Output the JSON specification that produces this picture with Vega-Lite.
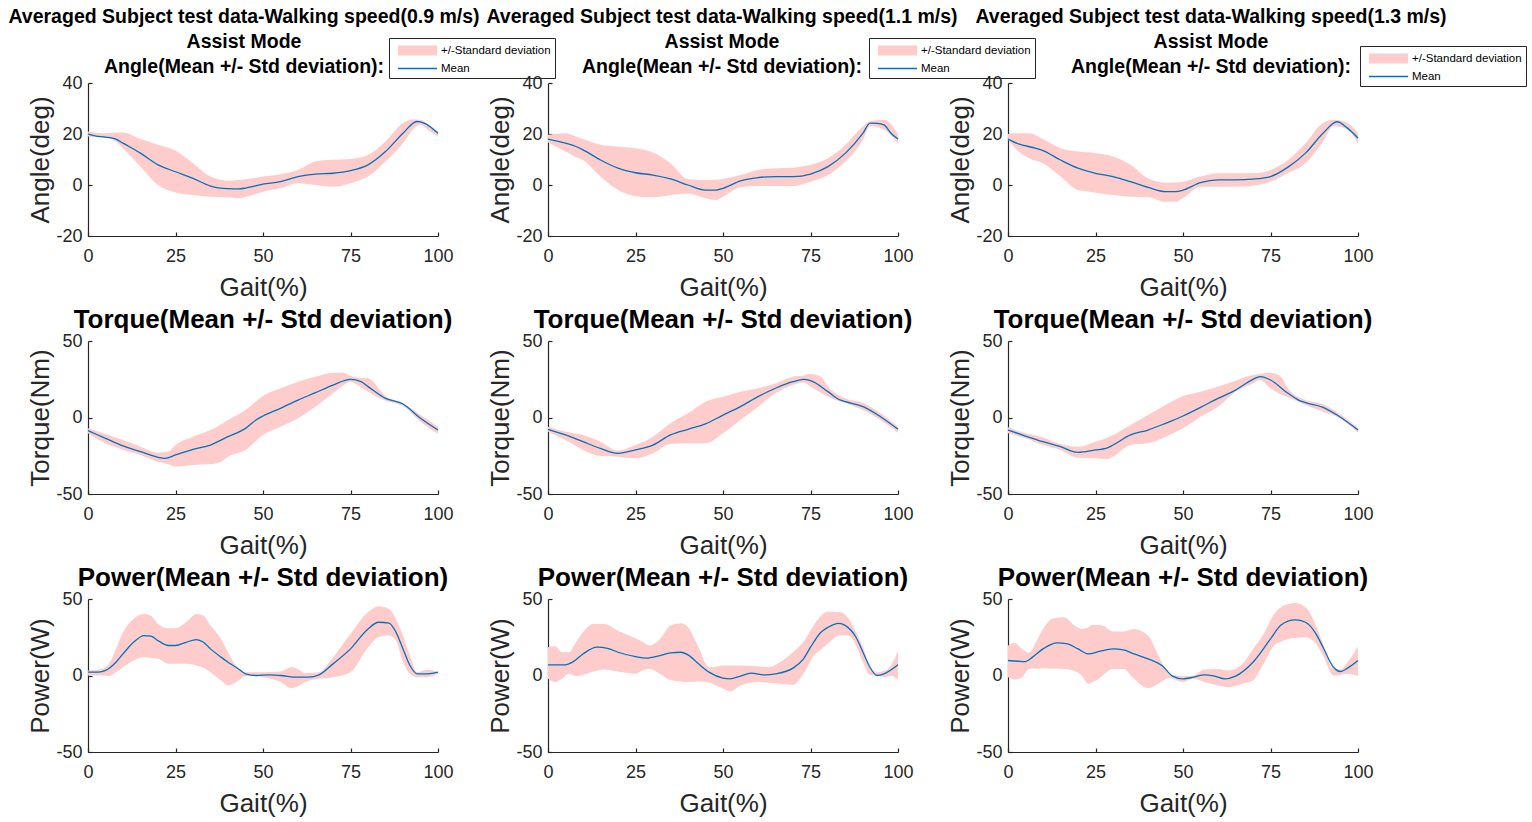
{
"$schema": "https://vega.github.io/schema/vega-lite/v6.json",
"background": "white",
"padding": {"left": 8, "top": 7, "right": 5, "bottom": 5},
"config": {
  "font": "Liberation Sans",
  "view": {"stroke": null},
  "axis": {"grid": false, "domainColor": "#262626", "tickColor": "#262626", "labelColor": "#262626", "titleColor": "#262626", "labelFont": "Liberation Sans", "titleFont": "Liberation Sans", "labelFontSize": 18, "titleFontSize": 26, "titleFontWeight": "normal", "tickSize": -4, "domainWidth": 1.2, "tickWidth": 1.2, "labelOverlap": false, "labelFlush": false, "labelExpr": "'' + datum.value"},
  "axisX": {"labelPadding": 15, "titlePadding": 9},
  "axisY": {"labelPadding": 10, "titlePadding": 2},
  "title": {"font": "Liberation Sans", "fontWeight": "bold", "color": "#000000", "frame": "group", "anchor": "middle"},
  "legend": {"title": null, "orient": "none", "symbolSize": 289, "symbolStrokeWidth": 0, "symbolOpacity": 1, "labelFont": "Liberation Sans", "labelFontSize": 11.5, "labelColor": "#000000", "padding": 4, "strokeColor": "#262626", "fillColor": "white", "rowPadding": 4, "symbolOffset": 16, "labelOffset": 15}
},
"datasets": {
"band": [
{"p":"a1","x":0,"lo":19,"hi":21},{"p":"a1","x":5,"lo":18.4,"hi":20.3},{"p":"a1","x":8,"lo":17,"hi":20.6},{"p":"a1","x":10,"lo":14.4,"hi":20.6},{"p":"a1","x":15,"lo":7.2,"hi":18},{"p":"a1","x":20,"lo":0,"hi":15.8},{"p":"a1","x":25,"lo":-2.9,"hi":13.5},{"p":"a1","x":30,"lo":-3.9,"hi":8.5},{"p":"a1","x":35,"lo":-4.6,"hi":3.3},{"p":"a1","x":40,"lo":-4.8,"hi":1.7},{"p":"a1","x":43,"lo":-5.2,"hi":2},{"p":"a1","x":45,"lo":-4.6,"hi":2.3},{"p":"a1","x":47,"lo":-3.9,"hi":2.6},{"p":"a1","x":50,"lo":-2.6,"hi":3.3},{"p":"a1","x":55,"lo":-1.3,"hi":4.2},{"p":"a1","x":60,"lo":0.7,"hi":5.9},{"p":"a1","x":65,"lo":0,"hi":9.2},{"p":"a1","x":70,"lo":-0.7,"hi":9.9},{"p":"a1","x":75,"lo":0.7,"hi":10.2},{"p":"a1","x":80,"lo":3.3,"hi":11.8},{"p":"a1","x":85,"lo":9.2,"hi":17.1},{"p":"a1","x":90,"lo":16.4,"hi":24.3},{"p":"a1","x":93,"lo":22,"hi":25.8},{"p":"a1","x":95,"lo":23.6,"hi":25.6},{"p":"a1","x":97,"lo":21.7,"hi":24},{"p":"a1","x":100,"lo":19,"hi":21},
{"p":"a2","x":0,"lo":16.7,"hi":19.7},{"p":"a2","x":5,"lo":13.1,"hi":20.3},{"p":"a2","x":8,"lo":11,"hi":19},{"p":"a2","x":10,"lo":9.8,"hi":18},{"p":"a2","x":15,"lo":3.3,"hi":15.8},{"p":"a2","x":20,"lo":-2,"hi":15.1},{"p":"a2","x":25,"lo":-4.4,"hi":14.4},{"p":"a2","x":30,"lo":-4.8,"hi":12.7},{"p":"a2","x":35,"lo":-3.9,"hi":8.5},{"p":"a2","x":40,"lo":-3.3,"hi":2.3},{"p":"a2","x":45,"lo":-5.2,"hi":2},{"p":"a2","x":48,"lo":-5.9,"hi":2.1},{"p":"a2","x":50,"lo":-4.6,"hi":2.4},{"p":"a2","x":55,"lo":-0.9,"hi":3.9},{"p":"a2","x":60,"lo":-0.4,"hi":5.9},{"p":"a2","x":65,"lo":-0.4,"hi":6.6},{"p":"a2","x":70,"lo":-0.4,"hi":6.8},{"p":"a2","x":75,"lo":1.3,"hi":7.9},{"p":"a2","x":80,"lo":3.9,"hi":10.5},{"p":"a2","x":85,"lo":9.2,"hi":15.8},{"p":"a2","x":90,"lo":17.7,"hi":23},{"p":"a2","x":92,"lo":23,"hi":25},{"p":"a2","x":96,"lo":21.7,"hi":25.6},{"p":"a2","x":100,"lo":16.2,"hi":20},
{"p":"a3","x":0,"lo":17.7,"hi":20},{"p":"a3","x":3,"lo":13.1,"hi":20.3},{"p":"a3","x":6,"lo":10.5,"hi":20.3},{"p":"a3","x":10,"lo":8.5,"hi":18},{"p":"a3","x":15,"lo":3.3,"hi":14.4},{"p":"a3","x":20,"lo":-2,"hi":13.1},{"p":"a3","x":25,"lo":-3,"hi":12.5},{"p":"a3","x":30,"lo":-3.9,"hi":11.2},{"p":"a3","x":35,"lo":-4.6,"hi":7.9},{"p":"a3","x":40,"lo":-4.8,"hi":2.6},{"p":"a3","x":45,"lo":-6.6,"hi":0.9},{"p":"a3","x":48,"lo":-6.6,"hi":1},{"p":"a3","x":50,"lo":-5.2,"hi":1.3},{"p":"a3","x":55,"lo":-0.7,"hi":3.3},{"p":"a3","x":60,"lo":-0.7,"hi":4.6},{"p":"a3","x":65,"lo":-0.7,"hi":4.6},{"p":"a3","x":70,"lo":-0.3,"hi":4.6},{"p":"a3","x":75,"lo":1.3,"hi":5.9},{"p":"a3","x":80,"lo":4.6,"hi":9.8},{"p":"a3","x":85,"lo":8.5,"hi":16.4},{"p":"a3","x":90,"lo":17,"hi":24.3},{"p":"a3","x":93,"lo":23,"hi":25.6},{"p":"a3","x":97,"lo":21.7,"hi":24.3},{"p":"a3","x":100,"lo":16.2,"hi":20.3},
{"p":"t1","x":0,"lo":-10.3,"hi":-7.1},{"p":"t1","x":5,"lo":-16.9,"hi":-10.8},{"p":"t1","x":10,"lo":-21.2,"hi":-14.7},{"p":"t1","x":15,"lo":-24.5,"hi":-19.1},{"p":"t1","x":20,"lo":-28.9,"hi":-23},{"p":"t1","x":23,"lo":-30.5,"hi":-22.3},{"p":"t1","x":25,"lo":-32.1,"hi":-18},{"p":"t1","x":30,"lo":-31,"hi":-12.5},{"p":"t1","x":35,"lo":-30.6,"hi":-8.2},{"p":"t1","x":38,"lo":-28.9,"hi":-4.5},{"p":"t1","x":40,"lo":-25.6,"hi":-1.6},{"p":"t1","x":45,"lo":-21.2,"hi":4.9},{"p":"t1","x":50,"lo":-11.4,"hi":14.1},{"p":"t1","x":55,"lo":-6,"hi":19.1},{"p":"t1","x":60,"lo":-0.5,"hi":23.4},{"p":"t1","x":65,"lo":7.1,"hi":26.7},{"p":"t1","x":70,"lo":15.8,"hi":29.3},{"p":"t1","x":73,"lo":21,"hi":29.3},{"p":"t1","x":75,"lo":23.4,"hi":27.1},{"p":"t1","x":77,"lo":21.2,"hi":26},{"p":"t1","x":80,"lo":16.9,"hi":25.6},{"p":"t1","x":85,"lo":11,"hi":14.1},{"p":"t1","x":90,"lo":7.5,"hi":9.3},{"p":"t1","x":95,"lo":-2.7,"hi":1.6},{"p":"t1","x":100,"lo":-10.8,"hi":-6},
{"p":"t2","x":0,"lo":-9.3,"hi":-6},{"p":"t2","x":5,"lo":-14.7,"hi":-9.3},{"p":"t2","x":10,"lo":-21.2,"hi":-11.4},{"p":"t2","x":15,"lo":-25.2,"hi":-15.8},{"p":"t2","x":20,"lo":-25.6,"hi":-21.7},{"p":"t2","x":25,"lo":-26.7,"hi":-18},{"p":"t2","x":30,"lo":-23.4,"hi":-12.5},{"p":"t2","x":35,"lo":-17.3,"hi":-3.8},{"p":"t2","x":40,"lo":-16.9,"hi":2.7},{"p":"t2","x":45,"lo":-16.9,"hi":10.3},{"p":"t2","x":50,"lo":-10.3,"hi":13.6},{"p":"t2","x":55,"lo":-1.6,"hi":16.9},{"p":"t2","x":60,"lo":7.1,"hi":19.1},{"p":"t2","x":65,"lo":15.8,"hi":22.3},{"p":"t2","x":70,"lo":21.2,"hi":26.7},{"p":"t2","x":73,"lo":22.8,"hi":27.5},{"p":"t2","x":75,"lo":20.2,"hi":28.4},{"p":"t2","x":78,"lo":16,"hi":26.7},{"p":"t2","x":80,"lo":13.6,"hi":20.2},{"p":"t2","x":85,"lo":9.3,"hi":12.5},{"p":"t2","x":90,"lo":4.9,"hi":9.7},{"p":"t2","x":95,"lo":-1.6,"hi":2.7},{"p":"t2","x":100,"lo":-9.9,"hi":-6},
{"p":"t3","x":0,"lo":-10.3,"hi":-6.4},{"p":"t3","x":5,"lo":-13.6,"hi":-10.3},{"p":"t3","x":10,"lo":-18,"hi":-13},{"p":"t3","x":15,"lo":-21.2,"hi":-17.3},{"p":"t3","x":20,"lo":-26.3,"hi":-19.1},{"p":"t3","x":25,"lo":-26.7,"hi":-15.8},{"p":"t3","x":28,"lo":-27.3,"hi":-13.5},{"p":"t3","x":30,"lo":-25.6,"hi":-11.4},{"p":"t3","x":35,"lo":-18,"hi":-4.9},{"p":"t3","x":40,"lo":-16.9,"hi":1.6},{"p":"t3","x":45,"lo":-12.5,"hi":8.2},{"p":"t3","x":50,"lo":-7.1,"hi":14.1},{"p":"t3","x":55,"lo":0.5,"hi":16.9},{"p":"t3","x":60,"lo":7.1,"hi":20.2},{"p":"t3","x":65,"lo":16.9,"hi":24.1},{"p":"t3","x":70,"lo":22.3,"hi":27.8},{"p":"t3","x":72,"lo":24.5,"hi":28.5},{"p":"t3","x":75,"lo":19.1,"hi":29.3},{"p":"t3","x":78,"lo":15,"hi":26.7},{"p":"t3","x":80,"lo":13.2,"hi":19.1},{"p":"t3","x":85,"lo":8.2,"hi":11.4},{"p":"t3","x":90,"lo":3.8,"hi":8.8},{"p":"t3","x":94,"lo":0.5,"hi":3.5},{"p":"t3","x":100,"lo":-9.9,"hi":-6.6},
{"p":"p1","x":0,"lo":0,"hi":3.3},{"p":"p1","x":4,"lo":0,"hi":4.3},{"p":"p1","x":6,"lo":-0.4,"hi":7.6},{"p":"p1","x":8,"lo":2.2,"hi":17.4},{"p":"p1","x":10,"lo":5.4,"hi":28.3},{"p":"p1","x":13,"lo":9.8,"hi":37},{"p":"p1","x":16,"lo":12,"hi":40.2},{"p":"p1","x":18,"lo":11.5,"hi":39.1},{"p":"p1","x":20,"lo":10.9,"hi":33.7},{"p":"p1","x":23,"lo":7.6,"hi":30.9},{"p":"p1","x":25,"lo":7.6,"hi":30.9},{"p":"p1","x":28,"lo":7.6,"hi":34.8},{"p":"p1","x":31,"lo":6.5,"hi":40.2},{"p":"p1","x":33,"lo":5,"hi":39.1},{"p":"p1","x":35,"lo":2.2,"hi":32.6},{"p":"p1","x":38,"lo":-3.3,"hi":23.9},{"p":"p1","x":40,"lo":-6.5,"hi":15.2},{"p":"p1","x":43,"lo":-3.3,"hi":4.3},{"p":"p1","x":45,"lo":-0.4,"hi":2.2},{"p":"p1","x":50,"lo":-1.1,"hi":2.2},{"p":"p1","x":55,"lo":-4.3,"hi":2.6},{"p":"p1","x":58,"lo":-8.3,"hi":5.4},{"p":"p1","x":60,"lo":-7,"hi":4.3},{"p":"p1","x":62,"lo":-4.3,"hi":1.5},{"p":"p1","x":66,"lo":-2.2,"hi":2.2},{"p":"p1","x":70,"lo":-1.1,"hi":12},{"p":"p1","x":75,"lo":2.2,"hi":27.2},{"p":"p1","x":80,"lo":18.5,"hi":41.3},{"p":"p1","x":83,"lo":25,"hi":45.2},{"p":"p1","x":86,"lo":26.1,"hi":43.5},{"p":"p1","x":88,"lo":22.8,"hi":37},{"p":"p1","x":90,"lo":8.7,"hi":26.1},{"p":"p1","x":92,"lo":1.1,"hi":13},{"p":"p1","x":94,"lo":-1.1,"hi":2.2},{"p":"p1","x":97,"lo":-1.1,"hi":3.7},{"p":"p1","x":100,"lo":1.1,"hi":2.2},
{"p":"p2","x":0,"lo":-2.2,"hi":18.5},{"p":"p2","x":2,"lo":-4.3,"hi":19.1},{"p":"p2","x":4,"lo":-2.2,"hi":15.2},{"p":"p2","x":6,"lo":1.1,"hi":15.2},{"p":"p2","x":8,"lo":-0.4,"hi":21.7},{"p":"p2","x":10,"lo":0.4,"hi":28.3},{"p":"p2","x":13,"lo":2.6,"hi":33.7},{"p":"p2","x":16,"lo":3.9,"hi":33.7},{"p":"p2","x":20,"lo":2.6,"hi":29.3},{"p":"p2","x":25,"lo":1.1,"hi":24.3},{"p":"p2","x":27,"lo":3.3,"hi":22},{"p":"p2","x":29,"lo":4.3,"hi":19.6},{"p":"p2","x":32,"lo":1,"hi":23.9},{"p":"p2","x":35,"lo":-3,"hi":32.6},{"p":"p2","x":38,"lo":-3.9,"hi":34.1},{"p":"p2","x":40,"lo":-4.3,"hi":31.5},{"p":"p2","x":43,"lo":-4,"hi":18.5},{"p":"p2","x":46,"lo":-4.5,"hi":5.4},{"p":"p2","x":48,"lo":-6.5,"hi":5.8},{"p":"p2","x":50,"lo":-8.5,"hi":6.5},{"p":"p2","x":52,"lo":-10.4,"hi":6.5},{"p":"p2","x":55,"lo":-6.5,"hi":6.5},{"p":"p2","x":60,"lo":-4.3,"hi":6.1},{"p":"p2","x":63,"lo":-4.8,"hi":5.4},{"p":"p2","x":67,"lo":-5.6,"hi":9.8},{"p":"p2","x":70,"lo":-6.1,"hi":15.2},{"p":"p2","x":73,"lo":1.1,"hi":22},{"p":"p2","x":76,"lo":13,"hi":33},{"p":"p2","x":78,"lo":17,"hi":39.1},{"p":"p2","x":80,"lo":20.7,"hi":41.7},{"p":"p2","x":83,"lo":26.1,"hi":41.7},{"p":"p2","x":86,"lo":26.1,"hi":37},{"p":"p2","x":88,"lo":19.6,"hi":28.3},{"p":"p2","x":90,"lo":8.7,"hi":18.5},{"p":"p2","x":92,"lo":0.4,"hi":5.4},{"p":"p2","x":94,"lo":0,"hi":2.2},{"p":"p2","x":96,"lo":-1.1,"hi":3},{"p":"p2","x":98,"lo":-0.4,"hi":6.5},{"p":"p2","x":100,"lo":-2.6,"hi":16.3},
{"p":"p3","x":0,"lo":-1.1,"hi":19.6},{"p":"p3","x":2,"lo":-2.6,"hi":21.3},{"p":"p3","x":4,"lo":-1.1,"hi":17.4},{"p":"p3","x":6,"lo":4.3,"hi":14.8},{"p":"p3","x":8,"lo":4.5,"hi":21.7},{"p":"p3","x":10,"lo":4.8,"hi":30.4},{"p":"p3","x":13,"lo":4.5,"hi":37.4},{"p":"p3","x":16,"lo":4.3,"hi":38},{"p":"p3","x":19,"lo":3,"hi":32.6},{"p":"p3","x":21,"lo":0,"hi":30.4},{"p":"p3","x":23,"lo":-5.4,"hi":31.5},{"p":"p3","x":24,"lo":-4.5,"hi":33},{"p":"p3","x":26,"lo":-2.2,"hi":33},{"p":"p3","x":27,"lo":0,"hi":32.6},{"p":"p3","x":30,"lo":4.3,"hi":28.7},{"p":"p3","x":33,"lo":4.3,"hi":28.7},{"p":"p3","x":36,"lo":-2.2,"hi":30.4},{"p":"p3","x":40,"lo":-8.3,"hi":26.1},{"p":"p3","x":43,"lo":-5.4,"hi":13},{"p":"p3","x":46,"lo":-1.7,"hi":1.1},{"p":"p3","x":50,"lo":-4.3,"hi":-0.5},{"p":"p3","x":53,"lo":-2.2,"hi":0},{"p":"p3","x":56,"lo":-4.3,"hi":3.9},{"p":"p3","x":60,"lo":-6.5,"hi":4.3},{"p":"p3","x":63,"lo":-7.6,"hi":3.3},{"p":"p3","x":67,"lo":-5.4,"hi":7.6},{"p":"p3","x":70,"lo":-3.3,"hi":17.4},{"p":"p3","x":73,"lo":7.6,"hi":27},{"p":"p3","x":76,"lo":19.6,"hi":40},{"p":"p3","x":78,"lo":22,"hi":44.6},{"p":"p3","x":80,"lo":23.9,"hi":46.5},{"p":"p3","x":82,"lo":24.5,"hi":47.4},{"p":"p3","x":85,"lo":25,"hi":44.6},{"p":"p3","x":88,"lo":20.7,"hi":32.6},{"p":"p3","x":90,"lo":13,"hi":20.7},{"p":"p3","x":93,"lo":0,"hi":4.3},{"p":"p3","x":95,"lo":0.4,"hi":4},{"p":"p3","x":97,"lo":1.1,"hi":8.7},{"p":"p3","x":100,"lo":-0.4,"hi":19.1}
],
"mean": [
{"p":"a1","x":0,"m":20},{"p":"a1","x":2,"m":19.3},{"p":"a1","x":5,"m":18.8},{"p":"a1","x":8,"m":18},{"p":"a1","x":10,"m":16.4},{"p":"a1","x":15,"m":12.5},{"p":"a1","x":20,"m":7.9},{"p":"a1","x":25,"m":5.2},{"p":"a1","x":30,"m":2.6},{"p":"a1","x":35,"m":-0.4},{"p":"a1","x":40,"m":-1.4},{"p":"a1","x":43,"m":-1.5},{"p":"a1","x":45,"m":-1.2},{"p":"a1","x":50,"m":0.3},{"p":"a1","x":55,"m":1.3},{"p":"a1","x":60,"m":3.3},{"p":"a1","x":65,"m":4.3},{"p":"a1","x":70,"m":4.6},{"p":"a1","x":75,"m":5.6},{"p":"a1","x":80,"m":7.9},{"p":"a1","x":85,"m":13.1},{"p":"a1","x":90,"m":20.3},{"p":"a1","x":94,"m":24.9},{"p":"a1","x":96,"m":24.3},{"p":"a1","x":100,"m":20.3},
{"p":"a2","x":0,"m":18},{"p":"a2","x":5,"m":16.4},{"p":"a2","x":8,"m":15.1},{"p":"a2","x":10,"m":13.8},{"p":"a2","x":15,"m":9.8},{"p":"a2","x":20,"m":6.6},{"p":"a2","x":25,"m":4.8},{"p":"a2","x":30,"m":3.9},{"p":"a2","x":35,"m":2.4},{"p":"a2","x":40,"m":0},{"p":"a2","x":45,"m":-2},{"p":"a2","x":48,"m":-2},{"p":"a2","x":50,"m":-1.3},{"p":"a2","x":55,"m":1.6},{"p":"a2","x":60,"m":2.9},{"p":"a2","x":65,"m":3.3},{"p":"a2","x":70,"m":3.3},{"p":"a2","x":75,"m":4.3},{"p":"a2","x":80,"m":7.2},{"p":"a2","x":85,"m":12.5},{"p":"a2","x":90,"m":20.3},{"p":"a2","x":92,"m":24.3},{"p":"a2","x":94,"m":24.2},{"p":"a2","x":96,"m":23.6},{"p":"a2","x":98,"m":20.3},{"p":"a2","x":100,"m":18},
{"p":"a3","x":0,"m":18},{"p":"a3","x":3,"m":16.1},{"p":"a3","x":8,"m":14.4},{"p":"a3","x":10,"m":13.5},{"p":"a3","x":15,"m":9.8},{"p":"a3","x":20,"m":6.6},{"p":"a3","x":25,"m":4.6},{"p":"a3","x":30,"m":3.3},{"p":"a3","x":35,"m":1.3},{"p":"a3","x":40,"m":-0.9},{"p":"a3","x":45,"m":-2.6},{"p":"a3","x":48,"m":-2.6},{"p":"a3","x":50,"m":-2},{"p":"a3","x":55,"m":0.9},{"p":"a3","x":60,"m":2},{"p":"a3","x":65,"m":2},{"p":"a3","x":70,"m":2.3},{"p":"a3","x":75,"m":3.3},{"p":"a3","x":80,"m":7},{"p":"a3","x":85,"m":12.5},{"p":"a3","x":90,"m":20.3},{"p":"a3","x":94,"m":24.8},{"p":"a3","x":97,"m":22.3},{"p":"a3","x":100,"m":18.4},
{"p":"t1","x":0,"m":-8.6},{"p":"t1","x":5,"m":-13.6},{"p":"t1","x":10,"m":-18.6},{"p":"t1","x":15,"m":-22.3},{"p":"t1","x":20,"m":-26},{"p":"t1","x":22,"m":-26.7},{"p":"t1","x":25,"m":-24.5},{"p":"t1","x":30,"m":-20.8},{"p":"t1","x":35,"m":-18},{"p":"t1","x":40,"m":-12.5},{"p":"t1","x":45,"m":-7.1},{"p":"t1","x":48,"m":-1.6},{"p":"t1","x":50,"m":1},{"p":"t1","x":55,"m":6},{"p":"t1","x":60,"m":11.4},{"p":"t1","x":65,"m":16.2},{"p":"t1","x":70,"m":21.2},{"p":"t1","x":75,"m":24.9},{"p":"t1","x":78,"m":23.4},{"p":"t1","x":80,"m":20.2},{"p":"t1","x":85,"m":12.5},{"p":"t1","x":90,"m":8.8},{"p":"t1","x":95,"m":-0.5},{"p":"t1","x":100,"m":-8.2},
{"p":"t2","x":0,"m":-7.7},{"p":"t2","x":5,"m":-11.4},{"p":"t2","x":10,"m":-15.8},{"p":"t2","x":15,"m":-20.2},{"p":"t2","x":20,"m":-23.4},{"p":"t2","x":25,"m":-21.2},{"p":"t2","x":30,"m":-18},{"p":"t2","x":35,"m":-11.4},{"p":"t2","x":40,"m":-7.7},{"p":"t2","x":45,"m":-4.2},{"p":"t2","x":50,"m":1.6},{"p":"t2","x":55,"m":7.1},{"p":"t2","x":60,"m":13.6},{"p":"t2","x":65,"m":19.1},{"p":"t2","x":70,"m":23.4},{"p":"t2","x":73,"m":24.9},{"p":"t2","x":75,"m":24.1},{"p":"t2","x":80,"m":16.9},{"p":"t2","x":83,"m":11.9},{"p":"t2","x":85,"m":10.3},{"p":"t2","x":90,"m":7.1},{"p":"t2","x":95,"m":0.5},{"p":"t2","x":100,"m":-7.7},
{"p":"t3","x":0,"m":-8.2},{"p":"t3","x":5,"m":-12.1},{"p":"t3","x":10,"m":-15.8},{"p":"t3","x":15,"m":-19.1},{"p":"t3","x":20,"m":-22.8},{"p":"t3","x":25,"m":-21.2},{"p":"t3","x":28,"m":-20.2},{"p":"t3","x":30,"m":-18},{"p":"t3","x":35,"m":-11.4},{"p":"t3","x":40,"m":-8.2},{"p":"t3","x":45,"m":-3.8},{"p":"t3","x":50,"m":1},{"p":"t3","x":55,"m":6.6},{"p":"t3","x":60,"m":12.5},{"p":"t3","x":65,"m":17.9},{"p":"t3","x":70,"m":24.9},{"p":"t3","x":72,"m":26.7},{"p":"t3","x":75,"m":24.5},{"p":"t3","x":80,"m":15.8},{"p":"t3","x":83,"m":11.4},{"p":"t3","x":85,"m":9.7},{"p":"t3","x":90,"m":6.6},{"p":"t3","x":94,"m":1.6},{"p":"t3","x":100,"m":-8.2},
{"p":"p1","x":0,"m":2.2},{"p":"p1","x":3,"m":2.2},{"p":"p1","x":5,"m":3.3},{"p":"p1","x":8,"m":8.7},{"p":"p1","x":10,"m":14.1},{"p":"p1","x":13,"m":21.7},{"p":"p1","x":16,"m":26.1},{"p":"p1","x":18,"m":25.7},{"p":"p1","x":20,"m":22.8},{"p":"p1","x":23,"m":19.6},{"p":"p1","x":25,"m":19.6},{"p":"p1","x":28,"m":21.7},{"p":"p1","x":31,"m":23.5},{"p":"p1","x":33,"m":21.7},{"p":"p1","x":35,"m":17.4},{"p":"p1","x":38,"m":12},{"p":"p1","x":40,"m":8.7},{"p":"p1","x":43,"m":4.3},{"p":"p1","x":45,"m":1.1},{"p":"p1","x":48,"m":0},{"p":"p1","x":52,"m":0.4},{"p":"p1","x":55,"m":0},{"p":"p1","x":60,"m":-1.1},{"p":"p1","x":63,"m":-1.1},{"p":"p1","x":66,"m":0.4},{"p":"p1","x":70,"m":7.6},{"p":"p1","x":75,"m":17.4},{"p":"p1","x":80,"m":30.4},{"p":"p1","x":83,"m":34.8},{"p":"p1","x":86,"m":34.3},{"p":"p1","x":88,"m":28.3},{"p":"p1","x":90,"m":17.4},{"p":"p1","x":92,"m":6.5},{"p":"p1","x":94,"m":1.1},{"p":"p1","x":97,"m":1.1},{"p":"p1","x":100,"m":2.2},
{"p":"p2","x":0,"m":7},{"p":"p2","x":5,"m":7},{"p":"p2","x":7,"m":8.7},{"p":"p2","x":10,"m":14.1},{"p":"p2","x":14,"m":18.5},{"p":"p2","x":17,"m":17.8},{"p":"p2","x":20,"m":15.2},{"p":"p2","x":25,"m":12.4},{"p":"p2","x":28,"m":11.3},{"p":"p2","x":32,"m":13},{"p":"p2","x":35,"m":14.8},{"p":"p2","x":38,"m":15.2},{"p":"p2","x":40,"m":13.5},{"p":"p2","x":43,"m":7.6},{"p":"p2","x":46,"m":2.2},{"p":"p2","x":50,"m":-1.7},{"p":"p2","x":52,"m":-2.2},{"p":"p2","x":55,"m":-0.4},{"p":"p2","x":58,"m":1.5},{"p":"p2","x":62,"m":0.4},{"p":"p2","x":65,"m":1.1},{"p":"p2","x":70,"m":4.8},{"p":"p2","x":73,"m":10.9},{"p":"p2","x":75,"m":18.5},{"p":"p2","x":78,"m":28.3},{"p":"p2","x":80,"m":31.5},{"p":"p2","x":83,"m":34.1},{"p":"p2","x":85,"m":32.6},{"p":"p2","x":88,"m":25},{"p":"p2","x":90,"m":15.2},{"p":"p2","x":92,"m":5.4},{"p":"p2","x":94,"m":0},{"p":"p2","x":96,"m":1.1},{"p":"p2","x":100,"m":7},
{"p":"p3","x":0,"m":9.8},{"p":"p3","x":3,"m":9.3},{"p":"p3","x":5,"m":9.1},{"p":"p3","x":7,"m":12},{"p":"p3","x":10,"m":17.4},{"p":"p3","x":14,"m":21.3},{"p":"p3","x":17,"m":20.7},{"p":"p3","x":20,"m":17.4},{"p":"p3","x":23,"m":14.1},{"p":"p3","x":26,"m":15.7},{"p":"p3","x":30,"m":17.4},{"p":"p3","x":33,"m":16.7},{"p":"p3","x":36,"m":14.1},{"p":"p3","x":40,"m":10.9},{"p":"p3","x":44,"m":6.5},{"p":"p3","x":47,"m":-0.4},{"p":"p3","x":50,"m":-2.2},{"p":"p3","x":53,"m":-1.1},{"p":"p3","x":56,"m":0.4},{"p":"p3","x":59,"m":-0.4},{"p":"p3","x":62,"m":-2.2},{"p":"p3","x":65,"m":-0.4},{"p":"p3","x":70,"m":8.7},{"p":"p3","x":75,"m":23.9},{"p":"p3","x":78,"m":33},{"p":"p3","x":82,"m":36.3},{"p":"p3","x":85,"m":34.8},{"p":"p3","x":88,"m":27.2},{"p":"p3","x":90,"m":18.5},{"p":"p3","x":93,"m":5.4},{"p":"p3","x":95,"m":2.6},{"p":"p3","x":97,"m":4.8},{"p":"p3","x":100,"m":9.8}
]
},
"columns": 3,
"spacing": {"row": 105, "column": 110},
"bounds": "flush",
"resolve": {"scale": {"x": "independent", "y": "independent", "color": "independent", "shape": "independent"}, "axis": {"x": "independent", "y": "independent"}, "legend": {"color": "independent", "shape": "independent"}},
"concat": [
{"width": 350, "height": 153,
 "title": {"text": ["Averaged Subject test data-Walking speed(0.9 m/s)", "Assist Mode", "Angle(Mean +/- Std deviation):"], "fontSize": 19.5, "lineHeight": 25, "offset": -40, "dx": -19},
 "layer": [
  {"data": {"name": "band"}, "transform": [{"filter": "datum.p === 'a1'"}], "mark": {"type": "area", "interpolate": "monotone", "color": "#FFCCCC", "opacity": 1},
   "encoding": {"x": {"field": "x", "type": "quantitative", "scale": {"domain": [0, 100], "nice": false}, "axis": {"values": [0, 25, 50, 75, 100], "title": "Gait(%)"}},
     "y": {"field": "lo", "type": "quantitative", "scale": {"domain": [-20, 40], "nice": false}, "axis": {"values": [-20, 0, 20, 40], "title": "Angle(deg)"}},
     "y2": {"field": "hi"}}},
  {"data": {"name": "mean"}, "transform": [{"filter": "datum.p === 'a1'"}], "mark": {"type": "line", "interpolate": "monotone", "strokeWidth": 1.3, "color": "#0072BD"},
   "encoding": {"x": {"field": "x", "type": "quantitative"}, "y": {"field": "m", "type": "quantitative"}}},
  {"data": {"name": "mean"}, "transform": [{"filter": "false"}], "mark": {"type": "point", "filled": true, "opacity": 1},
   "encoding": {"x": {"field": "x", "type": "quantitative"}, "y": {"field": "m", "type": "quantitative"},
     "color": {"field": "s", "type": "nominal", "scale": {"domain": ["+/-Standard deviation", "Mean"], "range": ["#FFCCCC", "#0072BD"]}, "legend": {"legendX": 301, "legendY": -45}},
     "shape": {"field": "s", "type": "nominal", "scale": {"domain": ["+/-Standard deviation", "Mean"], "range": ["M-2.3,-0.59H2.3V0.59H-2.3Z", "M-2.3,-0.08H2.3V0.08H-2.3Z"]}, "legend": {"legendX": 301, "legendY": -45}}}}
 ]},
{"width": 350, "height": 153,
 "title": {"text": ["Averaged Subject test data-Walking speed(1.1 m/s)", "Assist Mode", "Angle(Mean +/- Std deviation):"], "fontSize": 19.5, "lineHeight": 25, "offset": -40, "dx": -1},
 "layer": [
  {"data": {"name": "band"}, "transform": [{"filter": "datum.p === 'a2'"}], "mark": {"type": "area", "interpolate": "monotone", "color": "#FFCCCC", "opacity": 1},
   "encoding": {"x": {"field": "x", "type": "quantitative", "scale": {"domain": [0, 100], "nice": false}, "axis": {"values": [0, 25, 50, 75, 100], "title": "Gait(%)"}},
     "y": {"field": "lo", "type": "quantitative", "scale": {"domain": [-20, 40], "nice": false}, "axis": {"values": [-20, 0, 20, 40], "title": "Angle(deg)"}},
     "y2": {"field": "hi"}}},
  {"data": {"name": "mean"}, "transform": [{"filter": "datum.p === 'a2'"}], "mark": {"type": "line", "interpolate": "monotone", "strokeWidth": 1.3, "color": "#0072BD"},
   "encoding": {"x": {"field": "x", "type": "quantitative"}, "y": {"field": "m", "type": "quantitative"}}},
  {"data": {"name": "mean"}, "transform": [{"filter": "false"}], "mark": {"type": "point", "filled": true, "opacity": 1},
   "encoding": {"x": {"field": "x", "type": "quantitative"}, "y": {"field": "m", "type": "quantitative"},
     "color": {"field": "s", "type": "nominal", "scale": {"domain": ["+/-Standard deviation", "Mean"], "range": ["#FFCCCC", "#0072BD"]}, "legend": {"legendX": 321, "legendY": -45}},
     "shape": {"field": "s", "type": "nominal", "scale": {"domain": ["+/-Standard deviation", "Mean"], "range": ["M-2.3,-0.59H2.3V0.59H-2.3Z", "M-2.3,-0.08H2.3V0.08H-2.3Z"]}, "legend": {"legendX": 321, "legendY": -45}}}}
 ]},
{"width": 350, "height": 153,
 "title": {"text": ["Averaged Subject test data-Walking speed(1.3 m/s)", "Assist Mode", "Angle(Mean +/- Std deviation):"], "fontSize": 19.5, "lineHeight": 25, "offset": -32, "dx": 28},
 "layer": [
  {"data": {"name": "band"}, "transform": [{"filter": "datum.p === 'a3'"}], "mark": {"type": "area", "interpolate": "monotone", "color": "#FFCCCC", "opacity": 1},
   "encoding": {"x": {"field": "x", "type": "quantitative", "scale": {"domain": [0, 100], "nice": false}, "axis": {"values": [0, 25, 50, 75, 100], "title": "Gait(%)"}},
     "y": {"field": "lo", "type": "quantitative", "scale": {"domain": [-20, 40], "nice": false}, "axis": {"values": [-20, 0, 20, 40], "title": "Angle(deg)"}},
     "y2": {"field": "hi"}}},
  {"data": {"name": "mean"}, "transform": [{"filter": "datum.p === 'a3'"}], "mark": {"type": "line", "interpolate": "monotone", "strokeWidth": 1.3, "color": "#0072BD"},
   "encoding": {"x": {"field": "x", "type": "quantitative"}, "y": {"field": "m", "type": "quantitative"}}},
  {"data": {"name": "mean"}, "transform": [{"filter": "false"}], "mark": {"type": "point", "filled": true, "opacity": 1},
   "encoding": {"x": {"field": "x", "type": "quantitative"}, "y": {"field": "m", "type": "quantitative"},
     "color": {"field": "s", "type": "nominal", "scale": {"domain": ["+/-Standard deviation", "Mean"], "range": ["#FFCCCC", "#0072BD"]}, "legend": {"legendX": 352, "legendY": -37}},
     "shape": {"field": "s", "type": "nominal", "scale": {"domain": ["+/-Standard deviation", "Mean"], "range": ["M-2.3,-0.59H2.3V0.59H-2.3Z", "M-2.3,-0.08H2.3V0.08H-2.3Z"]}, "legend": {"legendX": 352, "legendY": -37}}}}
 ]},
{"width": 350, "height": 153,
 "title": {"text": "Torque(Mean +/- Std deviation)", "fontSize": 26, "offset": -1},
 "layer": [
  {"data": {"name": "band"}, "transform": [{"filter": "datum.p === 't1'"}], "mark": {"type": "area", "interpolate": "monotone", "color": "#FFCCCC", "opacity": 1},
   "encoding": {"x": {"field": "x", "type": "quantitative", "scale": {"domain": [0, 100], "nice": false}, "axis": {"values": [0, 25, 50, 75, 100], "title": "Gait(%)"}},
     "y": {"field": "lo", "type": "quantitative", "scale": {"domain": [-50, 50], "nice": false}, "axis": {"values": [-50, 0, 50], "title": "Torque(Nm)"}},
     "y2": {"field": "hi"}}},
  {"data": {"name": "mean"}, "transform": [{"filter": "datum.p === 't1'"}], "mark": {"type": "line", "interpolate": "monotone", "strokeWidth": 1.3, "color": "#0072BD"},
   "encoding": {"x": {"field": "x", "type": "quantitative"}, "y": {"field": "m", "type": "quantitative"}}}
 ]},
{"width": 350, "height": 153,
 "title": {"text": "Torque(Mean +/- Std deviation)", "fontSize": 26, "offset": -1},
 "layer": [
  {"data": {"name": "band"}, "transform": [{"filter": "datum.p === 't2'"}], "mark": {"type": "area", "interpolate": "monotone", "color": "#FFCCCC", "opacity": 1},
   "encoding": {"x": {"field": "x", "type": "quantitative", "scale": {"domain": [0, 100], "nice": false}, "axis": {"values": [0, 25, 50, 75, 100], "title": "Gait(%)"}},
     "y": {"field": "lo", "type": "quantitative", "scale": {"domain": [-50, 50], "nice": false}, "axis": {"values": [-50, 0, 50], "title": "Torque(Nm)"}},
     "y2": {"field": "hi"}}},
  {"data": {"name": "mean"}, "transform": [{"filter": "datum.p === 't2'"}], "mark": {"type": "line", "interpolate": "monotone", "strokeWidth": 1.3, "color": "#0072BD"},
   "encoding": {"x": {"field": "x", "type": "quantitative"}, "y": {"field": "m", "type": "quantitative"}}}
 ]},
{"width": 350, "height": 153,
 "title": {"text": "Torque(Mean +/- Std deviation)", "fontSize": 26, "offset": -1},
 "layer": [
  {"data": {"name": "band"}, "transform": [{"filter": "datum.p === 't3'"}], "mark": {"type": "area", "interpolate": "monotone", "color": "#FFCCCC", "opacity": 1},
   "encoding": {"x": {"field": "x", "type": "quantitative", "scale": {"domain": [0, 100], "nice": false}, "axis": {"values": [0, 25, 50, 75, 100], "title": "Gait(%)"}},
     "y": {"field": "lo", "type": "quantitative", "scale": {"domain": [-50, 50], "nice": false}, "axis": {"values": [-50, 0, 50], "title": "Torque(Nm)"}},
     "y2": {"field": "hi"}}},
  {"data": {"name": "mean"}, "transform": [{"filter": "datum.p === 't3'"}], "mark": {"type": "line", "interpolate": "monotone", "strokeWidth": 1.3, "color": "#0072BD"},
   "encoding": {"x": {"field": "x", "type": "quantitative"}, "y": {"field": "m", "type": "quantitative"}}}
 ]},
{"width": 350, "height": 153,
 "title": {"text": "Power(Mean +/- Std deviation)", "fontSize": 26, "offset": -1},
 "layer": [
  {"data": {"name": "band"}, "transform": [{"filter": "datum.p === 'p1'"}], "mark": {"type": "area", "interpolate": "monotone", "color": "#FFCCCC", "opacity": 1},
   "encoding": {"x": {"field": "x", "type": "quantitative", "scale": {"domain": [0, 100], "nice": false}, "axis": {"values": [0, 25, 50, 75, 100], "title": "Gait(%)"}},
     "y": {"field": "lo", "type": "quantitative", "scale": {"domain": [-50, 50], "nice": false}, "axis": {"values": [-50, 0, 50], "title": "Power(W)"}},
     "y2": {"field": "hi"}}},
  {"data": {"name": "mean"}, "transform": [{"filter": "datum.p === 'p1'"}], "mark": {"type": "line", "interpolate": "monotone", "strokeWidth": 1.3, "color": "#0072BD"},
   "encoding": {"x": {"field": "x", "type": "quantitative"}, "y": {"field": "m", "type": "quantitative"}}}
 ]},
{"width": 350, "height": 153,
 "title": {"text": "Power(Mean +/- Std deviation)", "fontSize": 26, "offset": -1},
 "layer": [
  {"data": {"name": "band"}, "transform": [{"filter": "datum.p === 'p2'"}], "mark": {"type": "area", "interpolate": "monotone", "color": "#FFCCCC", "opacity": 1},
   "encoding": {"x": {"field": "x", "type": "quantitative", "scale": {"domain": [0, 100], "nice": false}, "axis": {"values": [0, 25, 50, 75, 100], "title": "Gait(%)"}},
     "y": {"field": "lo", "type": "quantitative", "scale": {"domain": [-50, 50], "nice": false}, "axis": {"values": [-50, 0, 50], "title": "Power(W)"}},
     "y2": {"field": "hi"}}},
  {"data": {"name": "mean"}, "transform": [{"filter": "datum.p === 'p2'"}], "mark": {"type": "line", "interpolate": "monotone", "strokeWidth": 1.3, "color": "#0072BD"},
   "encoding": {"x": {"field": "x", "type": "quantitative"}, "y": {"field": "m", "type": "quantitative"}}}
 ]},
{"width": 350, "height": 153,
 "title": {"text": "Power(Mean +/- Std deviation)", "fontSize": 26, "offset": -1},
 "layer": [
  {"data": {"name": "band"}, "transform": [{"filter": "datum.p === 'p3'"}], "mark": {"type": "area", "interpolate": "monotone", "color": "#FFCCCC", "opacity": 1},
   "encoding": {"x": {"field": "x", "type": "quantitative", "scale": {"domain": [0, 100], "nice": false}, "axis": {"values": [0, 25, 50, 75, 100], "title": "Gait(%)"}},
     "y": {"field": "lo", "type": "quantitative", "scale": {"domain": [-50, 50], "nice": false}, "axis": {"values": [-50, 0, 50], "title": "Power(W)"}},
     "y2": {"field": "hi"}}},
  {"data": {"name": "mean"}, "transform": [{"filter": "datum.p === 'p3'"}], "mark": {"type": "line", "interpolate": "monotone", "strokeWidth": 1.3, "color": "#0072BD"},
   "encoding": {"x": {"field": "x", "type": "quantitative"}, "y": {"field": "m", "type": "quantitative"}}}
 ]}
]
}
